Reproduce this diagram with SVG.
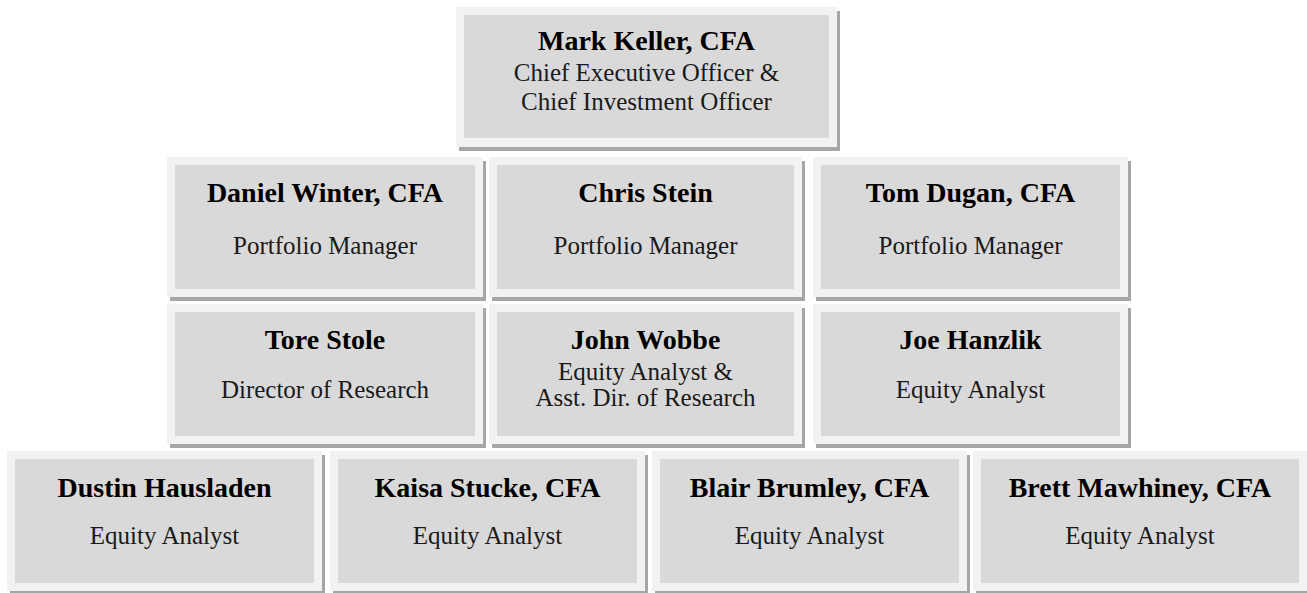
<svg xmlns="http://www.w3.org/2000/svg" width="1307" height="593" viewBox="0 0 1307 593">
<defs>
<style>
.sh{fill:#a6a6a6}
.out{fill:#f2f2f2}
.in{fill:#d9d9d9}
.nm{font-family:"Liberation Serif","Times New Roman",serif;font-weight:bold;font-size:28px;fill:#000;text-anchor:middle}
.sb{font-family:"Liberation Serif","Times New Roman",serif;font-size:25px;fill:#1a1a1a;text-anchor:middle}
</style>
</defs>
<rect width="1307" height="593" fill="#fff"/>
<g id="connectors"></g>
<g id="mark-keller">
<rect class="sh" x="459" y="11" width="381" height="140"/>
<rect class="out" x="456" y="7" width="381" height="140"/>
<rect class="in" x="464" y="15" width="365" height="123"/>
<text class="nm" x="646.5" y="50">Mark Keller, CFA</text>
<text class="sb" x="646.5" y="81">Chief Executive Officer &amp;</text>
<text class="sb" x="646.5" y="110">Chief Investment Officer</text>
</g>
<g id="daniel-winter">
<rect class="sh" x="170" y="161" width="316" height="140"/>
<rect class="out" x="167" y="157" width="316" height="140"/>
<rect class="in" x="175" y="165" width="300" height="124"/>
<text class="nm" x="325" y="202">Daniel Winter, CFA</text>
<text class="sb" x="325" y="254">Portfolio Manager</text>
</g>
<g id="chris-stein">
<rect class="sh" x="492" y="161" width="313" height="140"/>
<rect class="out" x="489" y="157" width="313" height="140"/>
<rect class="in" x="497" y="165" width="297" height="124"/>
<text class="nm" x="645.5" y="202">Chris Stein</text>
<text class="sb" x="645.5" y="254">Portfolio Manager</text>
</g>
<g id="tom-dugan">
<rect class="sh" x="816" y="161" width="315" height="140"/>
<rect class="out" x="813" y="157" width="315" height="140"/>
<rect class="in" x="821" y="165" width="299" height="124"/>
<text class="nm" x="970.5" y="202">Tom Dugan, CFA</text>
<text class="sb" x="970.5" y="254">Portfolio Manager</text>
</g>
<g id="tore-stole">
<rect class="sh" x="170" y="308" width="316" height="140"/>
<rect class="out" x="167" y="304" width="316" height="140"/>
<rect class="in" x="175" y="312" width="300" height="124"/>
<text class="nm" x="325" y="349">Tore Stole</text>
<text class="sb" x="325" y="398">Director of Research</text>
</g>
<g id="john-wobbe">
<rect class="sh" x="492" y="308" width="313" height="140"/>
<rect class="out" x="489" y="304" width="313" height="140"/>
<rect class="in" x="497" y="312" width="297" height="124"/>
<text class="nm" x="645.5" y="349">John Wobbe</text>
<text class="sb" x="645.5" y="380">Equity Analyst &amp;</text>
<text class="sb" x="645.5" y="406">Asst. Dir. of Research</text>
</g>
<g id="joe-hanzlik">
<rect class="sh" x="816" y="308" width="315" height="140"/>
<rect class="out" x="813" y="304" width="315" height="140"/>
<rect class="in" x="821" y="312" width="299" height="124"/>
<text class="nm" x="970.5" y="349">Joe Hanzlik</text>
<text class="sb" x="970.5" y="398">Equity Analyst</text>
</g>
<g id="dustin-hausladen">
<rect class="sh" x="10" y="455" width="315" height="140"/>
<rect class="out" x="7" y="451" width="315" height="140"/>
<rect class="in" x="15" y="459" width="299" height="124"/>
<text class="nm" x="164.5" y="497">Dustin Hausladen</text>
<text class="sb" x="164.5" y="544">Equity Analyst</text>
</g>
<g id="kaisa-stucke">
<rect class="sh" x="333" y="455" width="315" height="140"/>
<rect class="out" x="330" y="451" width="315" height="140"/>
<rect class="in" x="338" y="459" width="299" height="124"/>
<text class="nm" x="487.5" y="497">Kaisa Stucke, CFA</text>
<text class="sb" x="487.5" y="544">Equity Analyst</text>
</g>
<g id="blair-brumley">
<rect class="sh" x="655" y="455" width="315" height="140"/>
<rect class="out" x="652" y="451" width="315" height="140"/>
<rect class="in" x="660" y="459" width="299" height="124"/>
<text class="nm" x="809.5" y="497">Blair Brumley, CFA</text>
<text class="sb" x="809.5" y="544">Equity Analyst</text>
</g>
<g id="brett-mawhiney">
<rect class="sh" x="976" y="455" width="334" height="140"/>
<rect class="out" x="973" y="451" width="334" height="140"/>
<rect class="in" x="981" y="459" width="318" height="124"/>
<text class="nm" x="1140" y="497">Brett Mawhiney, CFA</text>
<text class="sb" x="1140" y="544">Equity Analyst</text>
</g>
</svg>
